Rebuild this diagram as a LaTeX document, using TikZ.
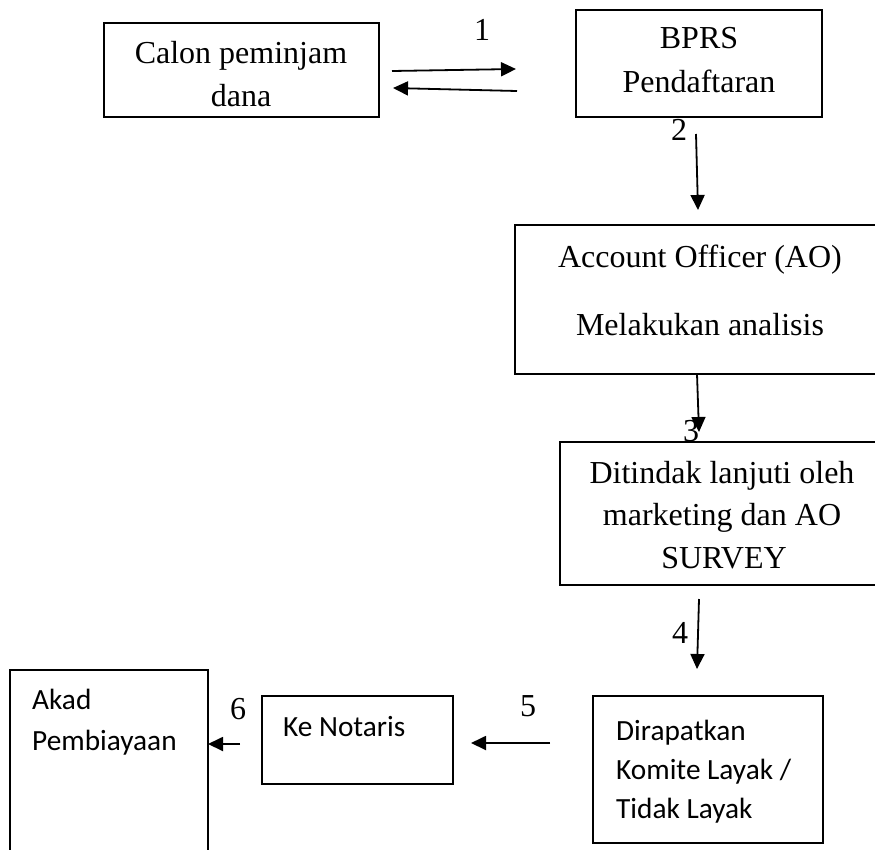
\documentclass[tikz,border=0pt]{standalone}
\usepackage{fontspec}
\setmainfont{Liberation Serif}
\newfontfamily\calib{Carlito}
\usetikzlibrary{arrows.meta}
\begin{document}
\begin{tikzpicture}[x=1pt,y=-1pt,
  box/.style={draw, line width=1.6pt, inner sep=0pt, outer sep=0pt, anchor=north west},
  tms/.style={font=\fontsize{32}{38}\selectfont, inner sep=0pt, anchor=base},
  cal/.style={font=\calib\fontsize{29.3}{35}\selectfont, inner sep=0pt, anchor=base west},
  arr/.style={line width=1.8pt, -{Triangle[length=15pt,width=14pt]}}]
\useasboundingbox (0,0) rectangle (875,849);
\clip (0,0) rectangle (875,849);
% boxes
\node[box, minimum width=275pt, minimum height=94pt]  (calon) at (104,23)  {};
\node[box, minimum width=246pt, minimum height=107pt] (bprs)  at (576,10)  {};
\node[box, minimum width=375pt, minimum height=149pt] (ao)    at (515,225) {};
\node[box, minimum width=330pt, minimum height=143pt] (tind)  at (560,442) {};
\node[box, minimum width=230pt, minimum height=147pt] (rapat) at (593,696) {};
\node[box, minimum width=191pt, minimum height=88pt]  (notar) at (262,696) {};
\node[box, minimum width=198pt, minimum height=240pt] (akad)  at (10,670)  {};
% texts
\node[tms] (tcalA) at (241,63)  {Calon peminjam};
\node[tms] (tcalB) at (241,106) {dana};
\node[tms] (tbpA)  at (699,48)  {BPRS};
\node[tms] (tbpB)  at (699,92)  {Pendaftaran};
\node[tms] (taoA)  at (700,267) {Account Officer (AO)};
\node[tms] (taoB)  at (700,335) {Melakukan analisis};
\node[tms] (ttiA)  at (722,483) {Ditindak lanjuti oleh};
\node[tms] (ttiB)  at (722,525) {marketing dan AO};
\node[tms] (ttiC)  at (724,568) {SURVEY};
\node[cal] (traA)  at (616,740) {Dirapatkan};
\node[cal] (traB)  at (616,779) {Komite Layak /};
\node[cal] (traC)  at (616,818) {Tidak Layak};
\node[cal] (tno)   at (283,736) {Ke Notaris};
\node[cal] (takA)  at (32,709)  {Akad};
\node[cal] (takB)  at (32,750)  {Pembiayaan};
% numbers
\node[tms] (n1) at (482,40)  {1};
\node[tms] (n2) at (679,140) {2};
\node[tms] (n3) at (691,441) {3};
\node[tms] (n4) at (680,643) {4};
\node[tms] (n5) at (528,716) {5};
\node[tms] (n6) at (238,719) {6};
% connector end points
\coordinate (a1rs) at (392,71);  \coordinate (a1re) at (516,69);
\coordinate (a1ls) at (517,91);  \coordinate (a1le) at (393,88);
\coordinate (a2s) at (696,134);  \coordinate (a2e) at (698,210);
\coordinate (a3s) at (697,374);  \coordinate (a3e) at (699,432);
\coordinate (a4s) at (699,599);  \coordinate (a4e) at (697,669);
\coordinate (a5s) at (550,743);  \coordinate (a5e) at (471,743);
\coordinate (a6s) at (240,744);
% connectors
\draw[arr] (a1rs) -- (a1re);
\draw[arr] (a1ls) -- (a1le);
\draw[arr] (a2s) -- (a2e);
\draw[arr] (a3s) -- (a3e);
\draw[arr] (a4s) -- (a4e);
\draw[arr] (a5s) -- (a5e);
\draw[arr] (a6s) -- (akad.east |- a6s);
\end{tikzpicture}
\end{document}
